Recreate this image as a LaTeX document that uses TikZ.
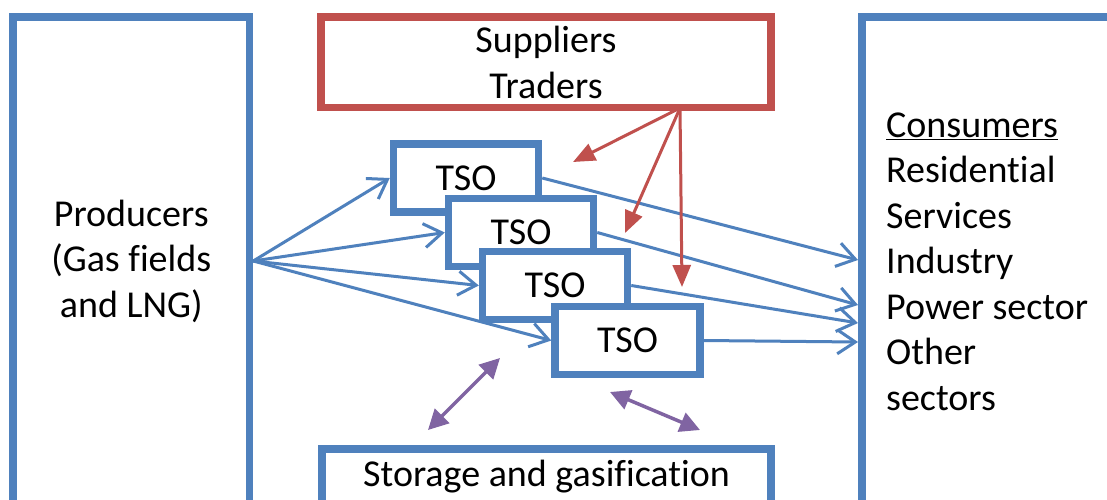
\documentclass[tikz,border=0pt]{standalone}
\usepackage{fontspec}
\setmainfont[Ligatures=NoCommon]{Carlito}
\usetikzlibrary{arrows.meta}
\definecolor{sblue}{HTML}{4F81BD}
\definecolor{sred}{HTML}{C0504D}
\definecolor{spurple}{HTML}{8064A2}
\tikzset{
  txt/.style={font=\fontsize{38}{45.5}\selectfont, text=black},
  box/.style={draw=sblue, line width=7.5pt, fill=white, inner sep=0pt, txt},
  redbox/.style={box, draw=sred},
  tso/.style={box, minimum width=145pt, minimum height=68pt},
  flow/.style={draw=sblue, line width=3pt, -{Straight Barb[length=18pt,width=24pt]}},
  redarr/.style={draw=sred, line width=3pt, -{Triangle[length=22pt,width=18pt]}},
  purarr/.style={draw=spurple, line width=3.5pt, {Triangle[length=20pt,width=20pt]}-{Triangle[length=20pt,width=20pt]}}
}
\begin{document}
\begin{tikzpicture}[x=1pt,y=-1pt]
\useasboundingbox (0,0) rectangle (1107,500);
\clip (0,0) rectangle (1107,500);
\fill[white] (0,0) rectangle (1107,500);

% big boxes
\node[box, minimum width=236.5pt, minimum height=488pt, align=center] (prod) at (131.25,261) {Producers\\(Gas fields\\and LNG)};
\node[box, minimum width=268pt, minimum height=488pt] (cons) at (996,261) {};
\node[txt, anchor=west, align=left, inner sep=0pt] (constext) at (886,261.5) {\underline{Consumers}\\Residential\\Services\\Industry\\Power sector\\Other\\sectors};
\node[redbox, minimum width=450pt, minimum height=90.5pt, align=center] (sup) at (546,62.25) {Suppliers\\Traders};
\node[box, minimum width=449pt, minimum height=56pt] (stor) at (546.5,477) {Storage and gasification};

% coordinates
\coordinate (c1) at (858,260);
\coordinate (c2) at (858,305);
\coordinate (c3) at (858,323);
\coordinate (c4) at (858,342);
\coordinate (rs) at (680,108);
\coordinate (r1) at (573,162);
\coordinate (r2) at (625,233);
\coordinate (r3) at (682,287);
\coordinate (p1a) at (428,430);
\coordinate (p1b) at (500,358);
\coordinate (p2a) at (610,392);
\coordinate (p2b) at (700,430);

\path (466,178) coordinate (t1c) (521,232.5) coordinate (t2c) (555,285.5) coordinate (t3c) (627.5,340.5) coordinate (t4c);

\node[tso] (t1) at (t1c) {TSO};
\draw[flow] (prod.east) -- (t1.west);
\node[tso] (t2) at (t2c) {TSO};
\draw[flow] (prod.east) -- (t2.west);
\draw[flow] (t1.east) -- (c1);
\node[tso] (t3) at (t3c) {TSO};
\draw[flow] (prod.east) -- (t3.west);
\draw[flow] (t2.east) -- (c2);
\node[tso] (t4) at (t4c) {TSO};
\draw[flow] (prod.east) -- (t4.west);
\draw[flow] (t3.east) -- (c3);
\draw[flow] (t4.east) -- (c4);

% supplier arrows
\draw[redarr] (rs) -- (r1);
\draw[redarr] (rs) -- (r2);
\draw[redarr] (rs) -- (r3);

% storage arrows
\draw[purarr] (p1a) -- (p1b);
\draw[purarr] (p2a) -- (p2b);
\end{tikzpicture}
\end{document}
